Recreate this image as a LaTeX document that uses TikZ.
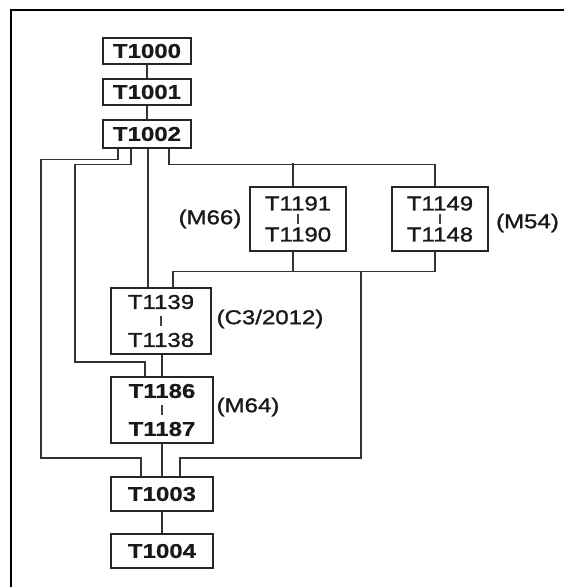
\documentclass[tikz,border=0pt]{standalone}
\usepackage{fontspec}
\setmainfont{Liberation Sans}[FakeStretch=1.2, FakeBold=1.3, BoldFeatures={FakeBold=0.6}]
\usetikzlibrary{calc}
\newcommand\tbar{\textcolor{black!75}{\rule[2pt]{1.2pt}{10pt}}}
\tikzset{
  box/.style={draw=black!85, line width=1.4pt, inner sep=0pt, align=center, text=black!90},
  topbox/.style={box, minimum width=88pt, minimum height=26pt, font=\bfseries\fontsize{20}{24}\selectfont},
  endbox/.style={box, minimum width=102pt, minimum height=34pt, font=\bfseries\fontsize{20}{24}\selectfont},
  pairsmall/.style={box, minimum width=96pt, minimum height=64pt, font=\fontsize{20}{15.5}\selectfont},
  pairbig/.style={box, minimum width=100pt, minimum height=66pt, font=\fontsize{20}{19}\selectfont},
  conn/.style={draw=black!80, line width=1.4pt},
  lab/.style={inner sep=0pt, text=black!90, font=\fontsize{20}{24}\selectfont}
}
\begin{document}
\begin{tikzpicture}[x=1pt, y=-1pt]
\useasboundingbox (0,0) rectangle (564,587);
% frame (top and left edges)
\draw[line width=2.6pt, black] (564,10) -- (11,10) -- (11,587);

% nodes
\node[topbox] (T1000) at (147,51) {T1000};
\node[topbox] (T1001) at (147,92) {T1001};
\node[topbox, minimum height=28pt] (T1002) at (147,134) {T1002};
\node[pairsmall] (T1191) at (298,219) {T1191\\\tbar\\T1190};
\node[pairsmall] (T1149) at (440,219) {T1149\\\tbar\\T1148};
\node[pairbig] (T1139) at (161,321) {T1139\\\tbar\\T1138};
\node[pairbig, minimum width=102pt, font=\bfseries\fontsize{20}{19}\selectfont] (T1186) at (162,410) {T1186\\\tbar\\T1187};
\node[endbox] (T1003) at (162,494) {T1003};
\node[endbox] (T1004) at (162,551) {T1004};

% labels
\node[lab] (lM66) at (210,219) {(M66)};
\node[lab] (lM54) at (527.5,223) {(M54)};
\node[lab] (lC3) at (270,319) {(C3/2012)};
\node[lab] (lM64) at (248,407) {(M64)};

% connectors
\draw[conn] (T1000) -- (T1001);
\draw[conn] (T1001) -- (T1002);
\draw[conn] ($(T1002.south)+(-29,0)$) -- ++(0,11) -| (41,458) -| ($(T1003.north)+(-21,0)$);
\draw[conn] ($(T1002.south)+(-16,0)$) -- ++(0,16) -| (75,362) -| ($(T1186.north)+(-17,0)$);
\draw[conn] ($(T1002.south)+(1,0)$) -- ($(T1139.north)+(-13,0)$);
\draw[conn] ($(T1002.south)+(22,0)$) -- ++(0,16) -| ($(T1149.north)+(-5,0)$);
\draw[conn] ($(T1191.north)+(-5,0)$) -- ++(0,-23);
\draw[conn] ($(T1191.south)+(-5,0)$) -- ++(0,20);
\draw[conn] ($(T1149.south)+(-5,0)$) -- ++(0,20) -| ($(T1139.north)+(12,0)$);
\coordinate (j1) at (361,271);
\draw[conn] (j1) -- (361,458) -| ($(T1003.north)+(18,0)$);
\draw[conn] (T1139.south -| T1186.north) -- (T1186.north);
\draw[conn] (T1186) -- (T1003);
\draw[conn] (T1003) -- (T1004);
\end{tikzpicture}
\end{document}
